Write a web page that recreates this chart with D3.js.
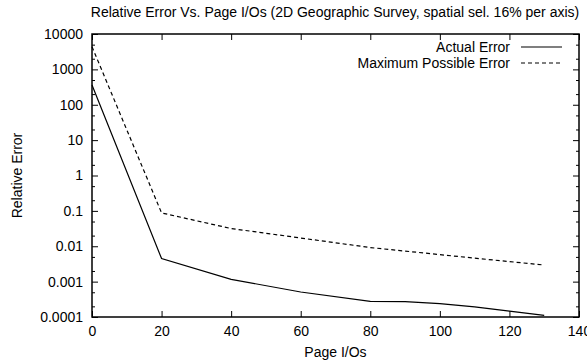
<!DOCTYPE html>
<html>
<head>
<meta charset="utf-8">
<script src="https://cdn.jsdelivr.net/npm/d3@7"></script>
<style>
  body { margin: 0; background: #fff; }
  text { font-family: "Liberation Sans", Arial, sans-serif; fill: #000; }
</style>
</head>
<body>
<div id="chart"></div>
<script>
// page I/Os
var pageIOs = [0, 20, 40, 60, 80, 90, 100, 110, 120, 130];
var actualError = [360, 0.00448, 0.00116, 0.000508, 0.000277, 0.000272, 0.000239, 0.000194, 0.000147, 0.000111];
var maxIOs = [0, 20, 40, 60, 80, 100, 120, 130];
var maxError = [4375, 0.0875, 0.0317, 0.0171, 0.00918, 0.0058, 0.00368, 0.00295];
var xTicks = [0, 20, 40, 60, 80, 100, 120, 140];
var yTicks = [0.0001, 0.001, 0.01, 0.1, 1, 10, 100, 1000, 10000];
var yTickLabels = ["0.0001", "0.001", "0.01", "0.1", "1", "10", "100", "1000", "10000"];

var width = 587, height = 362;
var margin = {left: 92, right: 8, top: 34, bottom: 45};
var fs = "14px";

var svg = d3.select("#chart")
    .append("svg")
    .attr("width", width)
    .attr("height", height);

var x = d3.scaleLinear().domain([0, 140]).range([margin.left, width - margin.right]);
var y = d3.scaleLog().domain([0.0001, 10000]).range([height - margin.bottom, margin.top]);

// minor ticks at 2 and 5 of each decade
var minor = [];
yTicks.forEach(function(t){ if (t < 10000) { minor.push(t * 2); minor.push(t * 5); } });

var g = svg.append("g");

// bottom axis
g.append("g")
    .attr("transform", "translate(0," + y.range()[0] + ")")
    .call(d3.axisBottom(x).tickValues(xTicks).tickSize(-6).tickPadding(9))
    .call(function(a){ a.select(".domain").remove(); })
    .selectAll("text").attr("font-size", fs);
// top axis (mirror, no labels)
g.append("g")
    .attr("transform", "translate(0," + y.range()[1] + ")")
    .call(d3.axisTop(x).tickValues(xTicks).tickSize(-6).tickFormat(""))
    .call(function(a){ a.select(".domain").remove(); });

// left axis
g.append("g")
    .attr("transform", "translate(" + x.range()[0] + ",0)")
    .call(d3.axisLeft(y).tickValues(yTicks).tickSize(-6).tickPadding(9)
        .tickFormat(function(d, i){ return yTickLabels[i]; }))
    .call(function(a){ a.select(".domain").remove(); })
    .selectAll("text").attr("font-size", fs);
g.append("g")
    .attr("transform", "translate(" + x.range()[0] + ",0)")
    .call(d3.axisLeft(y).tickValues(minor).tickSize(-3).tickFormat(""))
    .call(function(a){ a.select(".domain").remove(); });
// right axis (mirror)
g.append("g")
    .attr("transform", "translate(" + x.range()[1] + ",0)")
    .call(d3.axisRight(y).tickValues(yTicks).tickSize(-6).tickFormat(""))
    .call(function(a){ a.select(".domain").remove(); });
g.append("g")
    .attr("transform", "translate(" + x.range()[1] + ",0)")
    .call(d3.axisRight(y).tickValues(minor).tickSize(-3).tickFormat(""))
    .call(function(a){ a.select(".domain").remove(); });

svg.selectAll(".tick line").attr("stroke", "#000");

// frame
svg.append("rect")
    .attr("x", x.range()[0])
    .attr("y", y.range()[1])
    .attr("width", x.range()[1] - x.range()[0])
    .attr("height", y.range()[0] - y.range()[1])
    .attr("fill", "none")
    .attr("stroke", "#000")
    .attr("stroke-width", 1.5);

var line = d3.line()
    .x(function(d){ return x(d[0]); })
    .y(function(d){ return y(d[1]); });

svg.append("path")
    .datum(d3.zip(pageIOs, actualError))
    .attr("d", line)
    .attr("fill", "none")
    .attr("stroke", "#000")
    .attr("stroke-width", 1.2);

svg.append("path")
    .datum(d3.zip(maxIOs, maxError))
    .attr("d", line)
    .attr("fill", "none")
    .attr("stroke", "#000")
    .attr("stroke-width", 1.2)
    .attr("stroke-dasharray", "4,3");

// legend
var legend = [
    {name: "Actual Error", dash: null},
    {name: "Maximum Possible Error", dash: "4,3"}
];
legend.forEach(function(l, i){
    var ly = 47 + i * 16;
    svg.append("text")
        .attr("x", 510)
        .attr("y", ly)
        .attr("dy", "0.35em")
        .attr("text-anchor", "end")
        .attr("font-size", fs)
        .text(l.name);
    svg.append("line")
        .attr("x1", 521).attr("x2", 562)
        .attr("y1", ly).attr("y2", ly)
        .attr("stroke", "#000")
        .attr("stroke-width", 1.2)
        .attr("stroke-dasharray", l.dash);
});

// titles
svg.append("text")
    .attr("x", 335)
    .attr("y", 17)
    .attr("text-anchor", "middle")
    .attr("font-size", fs)
    .text("Relative Error Vs. Page I/Os (2D Geographic Survey, spatial sel. 16% per axis)");

svg.append("text")
    .attr("x", x(70))
    .attr("y", 357)
    .attr("text-anchor", "middle")
    .attr("font-size", fs)
    .text("Page I/Os");

svg.append("text")
    .attr("transform", "translate(22," + ((y.range()[0] + y.range()[1]) / 2) + ") rotate(-90)")
    .attr("text-anchor", "middle")
    .attr("font-size", fs)
    .text("Relative Error");
</script>
</body>
</html>
